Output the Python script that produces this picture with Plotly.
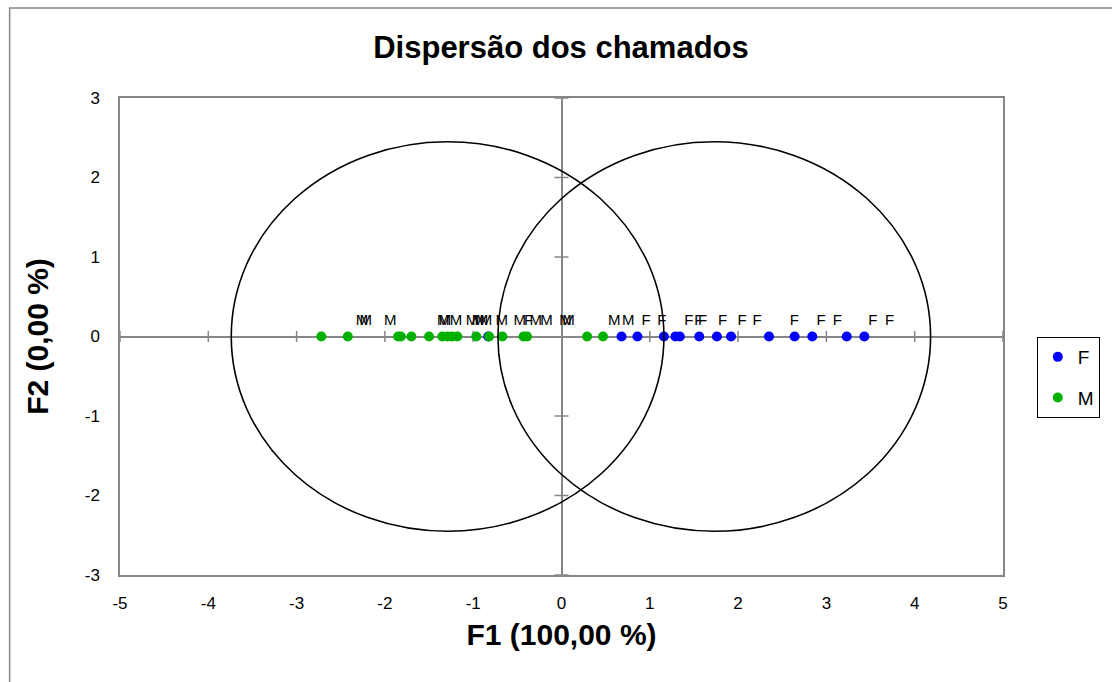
import plotly.graph_objects as go

# ---- data ----
f_x = [-0.83, 0.68, 0.86, 1.16, 1.29, 1.34, 1.56, 1.76, 1.92, 2.35, 2.64, 2.84, 3.23, 3.43]
f_y = [0.0] * len(f_x)
m_x = [-2.72, -2.42, -1.85, -1.82, -1.70, -1.50, -1.35, -1.29, -1.24, -1.18,
       -0.965, -0.82, -0.67, -0.43, -0.39, 0.29, 0.47]
m_y = [0.0] * len(m_x)

label_x = [-2.258, -2.218, -1.940, -1.340, -1.318, -1.194, -1.014, -0.946, -0.901, -0.856,
           -0.676, -0.473, -0.372, -0.293, -0.169, 0.045, 0.079, 0.597, 0.755,
           0.957, 1.137, 1.441, 1.554, 1.599, 1.824, 2.046, 2.215, 2.638, 2.939, 3.123, 3.525, 3.716]
label_text = ["M", "M", "M", "M", "M", "M", "M", "M", "M", "M",
              "M", "M", "F", "M", "M", "M", "M", "M", "M",
              "F", "F", "F", "F", "F", "F", "F", "F", "F", "F", "F", "F", "F"]
label_y = [0.19] * len(label_x)

ellipse_cx = [1.73, -1.29]
ellipse_cy = [0.0, 0.0]
ellipse_rx = [2.45, 2.45]
ellipse_ry = [2.45, 2.45]

x_ticks = [-5, -4, -3, -2, -1, 0, 1, 2, 3, 4, 5]
x_tick_text = ["-5", "-4", "-3", "-2", "-1", "0", "1", "2", "3", "4", "5"]
y_ticks = [-3, -2, -1, 0, 1, 2, 3]
y_tick_text = ["-3", "-2", "-1", "0", "1", "2", "3"]

FONT = "Arial, Liberation Sans, sans-serif"
AXIS_GRAY = "#868686"

fig = go.Figure()

# tick marks drawn on the zero lines (Excel style)
fig.add_trace(go.Scatter(
    x=[t for t in x_ticks if t != 0], y=[0] * (len(x_ticks) - 1), mode="markers",
    marker=dict(symbol="line-ns", size=8, line=dict(color=AXIS_GRAY, width=1.5)),
    showlegend=False, hoverinfo="skip"))
fig.add_trace(go.Scatter(
    x=[0] * (len(y_ticks) - 1), y=[t for t in y_ticks if t != 0], mode="markers",
    marker=dict(symbol="line-ew", size=10, line=dict(color=AXIS_GRAY, width=1.5)),
    showlegend=False, hoverinfo="skip"))

fig.add_trace(go.Scatter(
    x=f_x, y=f_y, mode="markers", name="F", legendgroup="F",
    marker=dict(color="#0000ff", size=10)))
fig.add_trace(go.Scatter(
    x=m_x, y=m_y, mode="markers", name="M", legendgroup="M",
    marker=dict(color="#00b000", size=10)))

fig.add_trace(go.Scatter(
    x=label_x, y=label_y, mode="text", text=label_text,
    textposition="middle center", textfont=dict(family=FONT, size=15, color="#000000"),
    showlegend=False, hoverinfo="skip"))

for cx, cy, rx, ry in zip(ellipse_cx, ellipse_cy, ellipse_rx, ellipse_ry):
    fig.add_shape(type="circle", xref="x", yref="y",
                  x0=cx - rx, x1=cx + rx, y0=cy - ry, y1=cy + ry,
                  line=dict(color="#000000", width=1.6), layer="above")

# outer chart frame
fig.add_shape(type="rect", xref="paper", yref="paper",
              x0=(9 - 120) / 888, x1=(1120 - 120) / 888,
              y0=(575 - 690) / 477, y1=(575 - 8) / 477,
              line=dict(color=AXIS_GRAY, width=1.5), layer="below")

fig.update_layout(
    width=1112, height=682,
    margin=dict(l=120, r=104, t=98, b=107),
    paper_bgcolor="white", plot_bgcolor="white",
    font=dict(family=FONT, size=17, color="#000000"),
    title=dict(text="<b>Dispersão dos chamados</b>", x=561 / 1112, xref="container",
               xanchor="center", y=1 - 47 / 682, yref="container", yanchor="middle",
               font=dict(family=FONT, size=31, color="#000000")),
    xaxis=dict(range=[-5, 5], tickvals=x_ticks, ticktext=x_tick_text, ticks="outside", ticklen=12,
               tickcolor="rgba(0,0,0,0)", showgrid=False,
               zeroline=True, zerolinecolor=AXIS_GRAY, zerolinewidth=1.5,
               showline=True, mirror=True, linecolor=AXIS_GRAY, linewidth=1.5,
               tickfont=dict(family=FONT, size=17, color="#000000"),
               title=dict(text="<b>F1 (100,00 %)</b>", standoff=12,
                          font=dict(family=FONT, size=30, color="#000000"))),
    yaxis=dict(range=[-3, 3], tickvals=y_ticks, ticktext=y_tick_text, ticks="outside", ticklen=15,
               tickcolor="rgba(0,0,0,0)", showgrid=False,
               zeroline=True, zerolinecolor=AXIS_GRAY, zerolinewidth=1.5,
               showline=True, mirror=True, linecolor=AXIS_GRAY, linewidth=1.5,
               tickfont=dict(family=FONT, size=17, color="#000000"),
               title=dict(text="<b>F2 (0,00 %)</b>", standoff=27,
                          font=dict(family=FONT, size=30, color="#000000"))),
    legend=dict(x=(1042 - 120) / 888, y=(575 - 337) / 477, xanchor="left", yanchor="top",
                bordercolor="#000000", borderwidth=1, bgcolor="white",
                font=dict(family=FONT, size=19, color="#000000"),
                traceorder="grouped", tracegroupgap=13, itemwidth=30),
    showlegend=True,
)

fig.write_html("out.html")
